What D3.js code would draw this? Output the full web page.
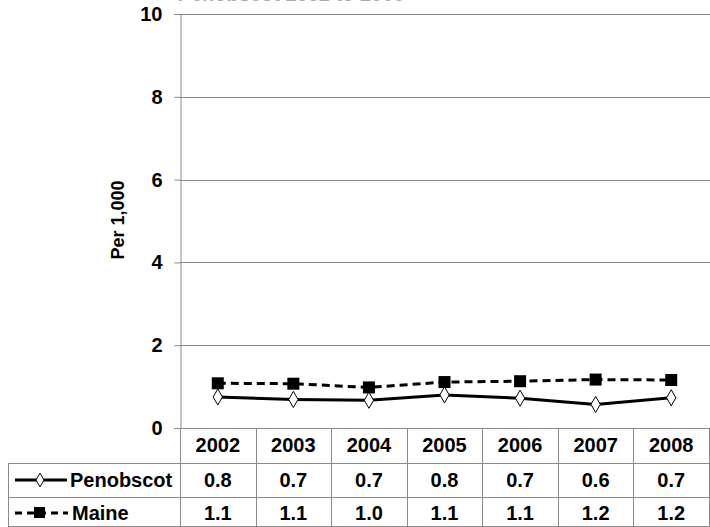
<!DOCTYPE html>
<html><head><meta charset="utf-8">
<script src="https://cdn.jsdelivr.net/npm/d3@7"></script>
<style>body{margin:0;background:#fff}svg{display:block}text{font-family:"Liberation Sans",Arial,sans-serif;font-weight:bold}</style>
</head><body>
<svg id="c" width="710" height="527"></svg>
<script>
const years = ["2002","2003","2004","2005","2006","2007","2008"];
const penobscot = [0.75,0.69,0.67,0.80,0.72,0.57,0.73];
const maine = [1.08,1.07,0.98,1.11,1.13,1.17,1.16];
const penobscotLabels = ["0.8","0.7","0.7","0.8","0.7","0.6","0.7"];
const maineLabels = ["1.1","1.1","1.0","1.1","1.1","1.2","1.2"];
const yTicks = [0,2,4,6,8,10];
const title = "Penobscot 2002 to 2008";

const svg = d3.select("#c");
const L = 180, R = 709, T = 14, B = 428;
const x = d3.scaleBand().domain(years).range([L, R]);
const y = d3.scaleLinear().domain([0,10]).range([B, T]);
const grid = "#8a8a8a";

svg.append("text").attr("x", 291).attr("y", 1).attr("text-anchor","middle")
  .attr("font-size", 20).attr("fill","#aaa").text(title);

// gridlines
svg.append("g").selectAll("line").data(yTicks.filter(d=>d>0)).join("line")
  .attr("x1", L).attr("x2", R+1).attr("y1", d=>Math.round(y(d))+0.5).attr("y2", d=>Math.round(y(d))+0.5)
  .attr("stroke", grid).attr("stroke-width",1);

// y axis
const ya = svg.append("g").attr("transform", `translate(${L+0.5},0)`)
  .call(d3.axisLeft(y).tickValues(yTicks).tickSize(6).tickPadding(12).tickFormat(d3.format("d")));
ya.select(".domain").attr("stroke", grid);
ya.selectAll(".tick line").attr("stroke", grid);
ya.selectAll("text").attr("font-size", 20).attr("fill","#000").attr("font-family",'"Liberation Sans",Arial,sans-serif').attr("font-weight","bold");

svg.append("text").attr("transform","translate(124,220) rotate(-90)").attr("text-anchor","middle")
  .attr("font-size",18).attr("fill","#000").text("Per 1,000");

// table
const row1 = 463, row2 = 497, bottom = 526;
const tbl = svg.append("g").attr("stroke", grid).attr("stroke-width",1);
tbl.append("line").attr("x1", L).attr("x2", R+1).attr("y1", B+0.5).attr("y2", B+0.5);
[row1,row2].forEach(r=>tbl.append("line").attr("x1",8).attr("x2",R+1).attr("y1",r+0.5).attr("y2",r+0.5));
tbl.append("line").attr("x1",8).attr("x2",R+1).attr("y1",bottom+0.5).attr("y2",bottom+0.5);
tbl.append("line").attr("x1",8.5).attr("x2",8.5).attr("y1",row1).attr("y2",bottom+1);
tbl.append("line").attr("x1",L+0.5).attr("x2",L+0.5).attr("y1",B).attr("y2",bottom+1);
tbl.selectAll(".v").data(years).join("line")
  .attr("x1", d=>Math.round(x(d)+x.bandwidth())+0.5).attr("x2", d=>Math.round(x(d)+x.bandwidth())+0.5)
  .attr("y1", B).attr("y2", bottom+1);
tbl.append("line").attr("x1",174).attr("x2",L).attr("y1",B+0.5).attr("y2",B+0.5);

const cx = d => x(d) + x.bandwidth()/2;
svg.append("g").selectAll("text").data(years).join("text")
  .attr("x", cx).attr("y", 452).attr("text-anchor","middle").attr("font-size",20).text(d=>d);
svg.append("g").selectAll("text").data(penobscotLabels).join("text")
  .attr("x", (d,i)=>cx(years[i])).attr("y", 487).attr("text-anchor","middle").attr("font-size",20).text(d=>d);
svg.append("g").selectAll("text").data(maineLabels).join("text")
  .attr("x", (d,i)=>cx(years[i])).attr("y", 520).attr("text-anchor","middle").attr("font-size",20).text(d=>d);

// legend in table
svg.append("line").attr("x1",15).attr("x2",67).attr("y1",480).attr("y2",480).attr("stroke","#000").attr("stroke-width",3);
svg.append("path").attr("d", d3.symbol(d3.symbolDiamond, 55)()).attr("transform","translate(40,480)")
  .attr("fill","#fff").attr("stroke","#000").attr("stroke-width",1);
svg.append("text").attr("x",70).attr("y",487).attr("font-size",20).text("Penobscot");
svg.append("line").attr("x1",15).attr("x2",68).attr("y1",513).attr("y2",513).attr("stroke","#000").attr("stroke-width",3).attr("stroke-dasharray","7,5");
svg.append("rect").attr("x",34).attr("y",507).attr("width",11).attr("height",11).attr("fill","#000");
svg.append("text").attr("x",72).attr("y",520).attr("font-size",20).text("Maine");

// lines
const line = d3.line().x((d,i)=>cx(years[i])).y(d=>y(d));
svg.append("path").datum(maine).attr("d", line).attr("fill","none").attr("stroke","#000")
  .attr("stroke-width",3).attr("stroke-dasharray","8,5");
svg.append("path").datum(penobscot).attr("d", line).attr("fill","none").attr("stroke","#000").attr("stroke-width",3);
svg.append("g").selectAll("rect").data(maine).join("rect")
  .attr("x",(d,i)=>cx(years[i])-6).attr("y",d=>y(d)-6).attr("width",12).attr("height",12).attr("fill","#000");
svg.append("g").selectAll("path").data(penobscot).join("path")
  .attr("d", d3.symbol(d3.symbolDiamond, 75)())
  .attr("transform",(d,i)=>`translate(${cx(years[i])},${y(d)})`)
  .attr("fill","#fff").attr("stroke","#000").attr("stroke-width",1);
</script>
</body></html>
